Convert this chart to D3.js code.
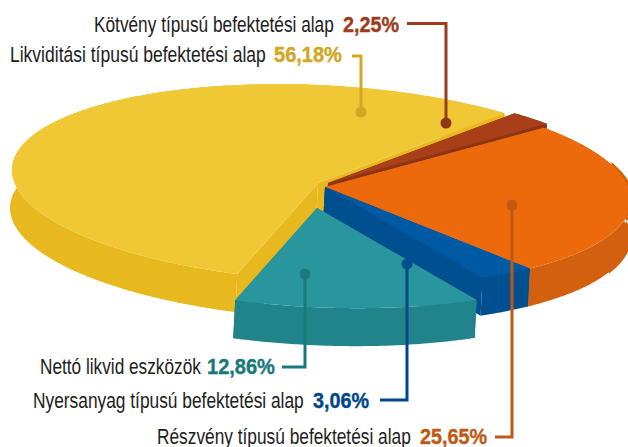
<!DOCTYPE html>
<html>
<head>
<meta charset="utf-8">
<script src="https://cdn.jsdelivr.net/npm/d3@7/dist/d3.min.js"></script>
<style>
html,body{margin:0;padding:0;background:#fff;overflow:hidden}
svg{display:block}
text{font-family:"Liberation Sans Narrow","Liberation Sans",sans-serif;font-size:21.5px}
</style>
</head>
<body>
<svg id="chart" width="628" height="447"></svg>
<script>
// Data
const categories = ["Likviditási típusú befektetési alap","Kötvény típusú befektetési alap","Részvény típusú befektetési alap","Nyersanyag típusú befektetési alap","Nettó likvid eszközök"];
const values = [56.18,2.25,25.65,3.06,12.86];
const valueLabels = ["56,18%","2,25%","25,65%","3,06%","12,86%"];

// Styles
const topColors  = ["#f0c835","#a83f18","#ec6a0c","#0059a3","#28969c"];
const wallColors = ["#e8b91e","#8c3414","#d2600f","#004f90","#20848a"];
const leadColors = ["#d2a724","#9c3c1c","#bf5a14","#00468a","#1a7a7a"];
const dotColors  = ["#cfa826","#8f3518","#bf5a14","#00508f","#1d7a7c"];

// Layout of each slice (pulled-out apex) and of each label
const apexX = [318,328,325,325,317];
const apexY = [183,183,187,187,208];
const radii = [306,306,306,306,310];
const labelX0 = [10,94,157,33,40], labelX1 = [266,334,411,304,201];
const valueX0 = [274,343,420,313,207], valueX1 = [342,399,487,369,275];
const baseY = [62,32,444,408,374];
const leadY = [56,23.5,437,400,367], leadX0 = [352,407,495,380,282];
const dotX = [361,446,512,407,305], dotY = [112,123,205,264,274];

const svg = d3.select("#chart");
const depthX = -2, depthY = 38;
const tiltY = 13/306, squashY = 98/306;
const deg = Math.PI/180;

const pie = d3.pie().sort(null).value(d=>d)
  .startAngle(195.3*deg).endAngle((195.3+360)*deg);
const arcs = pie(values);

const line = d3.line();
function pt(i,a,dx=0,dy=0,extra=0){
  const r = radii[i]+extra;
  return [apexX[i]+r*Math.sin(a)+dx, apexY[i]+r*tiltY*Math.sin(a)-r*squashY*Math.cos(a)+dy];
}
function arcPts(i,a0,a1,dx=0,dy=0,extra=0){
  const n = Math.max(2,Math.ceil((a1-a0)/0.01));
  return d3.range(n+1).map(k=>pt(i,a0+(a1-a0)*k/n,dx,dy,extra));
}
categories.forEach((c,i)=>{
  const {startAngle:a0,endAngle:a1} = arcs[i];
  const ax = apexX[i], ay = apexY[i];
  const g = svg.append("g");
  // outer wall
  const outer = arcPts(i,a0,a1);
  const lower = arcPts(i,a0,a1,depthX,depthY).reverse();
  g.append("path").attr("d",line(outer.concat(lower))+"Z").attr("fill",wallColors[i]);
  // thin rim of wall showing past the top face on the far right of the orange slice
  if(i===2){
    g.append("path").attr("d",line(arcPts(i,68*deg,112*deg,0,0,3).concat(arcPts(i,68*deg,112*deg,0,depthY).reverse()))+"Z")
      .attr("fill",wallColors[i]);
  }
  // radial walls
  [a0,a1].forEach(a=>{
    const p = pt(i,a);
    g.append("path").attr("d",line([[ax,ay],p,[p[0]+depthX,p[1]+depthY],[ax+depthX,ay+depthY]])+"Z")
      .attr("fill",wallColors[i]);
  });
  // top face
  g.append("path").attr("d",line([[ax,ay]].concat(outer))+"Z").attr("fill",topColors[i]);
});

// Fit a text horizontally into [x0,x1] by condensing its glyphs
function fitText(sel,x0,x1,y){
  const w = sel.node().getComputedTextLength();
  sel.attr("transform",`translate(${x0},${y}) scale(${(x1-x0)/w},1)`);
}
// Leaders and labels
categories.forEach((c,i)=>{
  svg.append("path")
    .attr("d",line([[leadX0[i],leadY[i]],[dotX[i],leadY[i]],[dotX[i],dotY[i]]]))
    .attr("fill","none").attr("stroke",leadColors[i]).attr("stroke-width",3);
  svg.append("circle").attr("cx",dotX[i]).attr("cy",dotY[i]).attr("r",5.5).attr("fill",dotColors[i]);
  fitText(svg.append("text").attr("fill","#1d1d1b").text(c),labelX0[i],labelX1[i],baseY[i]);
  fitText(svg.append("text").attr("fill",leadColors[i]).attr("font-weight","bold")
    .attr("stroke",leadColors[i]).attr("stroke-width",0.4).text(valueLabels[i]),valueX0[i],valueX1[i],baseY[i]);
});
</script>
</body>
</html>
